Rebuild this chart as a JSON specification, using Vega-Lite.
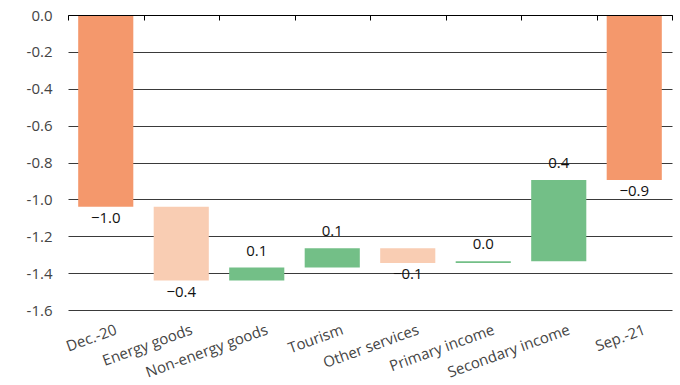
{
  "$schema": "https://vega.github.io/schema/vega-lite/v6.json",
  "width": 604,
  "height": 295,
  "autosize": "none",
  "padding": {"left": 68, "top": 15, "right": 8, "bottom": 75},
  "config": {
    "font": "Open Sans",
    "view": {"stroke": null}
  },
  "data": {
    "values": [
      {"cat": "Dec.-20", "amount": -1.04, "kind": "total"},
      {"cat": "Energy goods", "amount": -0.40, "kind": "change"},
      {"cat": "Non-energy goods", "amount": 0.07, "kind": "change"},
      {"cat": "Tourism", "amount": 0.105, "kind": "change"},
      {"cat": "Other services", "amount": -0.08, "kind": "change"},
      {"cat": "Primary income", "amount": 0.01, "kind": "change"},
      {"cat": "Secondary income", "amount": 0.44, "kind": "change"},
      {"cat": "Sep.-21", "amount": -0.895, "kind": "total"}
    ]
  },
  "transform": [
    {"window": [{"op": "sum", "field": "amount", "as": "running"}]},
    {"calculate": "datum.kind === 'total' ? datum.amount : datum.running", "as": "end"},
    {"calculate": "datum.kind === 'total' ? 0 : datum.running - datum.amount", "as": "start"},
    {"calculate": "datum.kind === 'total' ? 'total' : (datum.amount < 0 ? 'decrease' : 'increase')", "as": "effect"}
  ],
  "resolve": {"axis": {"x": "independent", "y": "independent"}},
  "layer": [
    {
      "mark": {"type": "bar", "width": {"band": 0.73}},
      "encoding": {
        "x": {
          "field": "cat",
          "type": "nominal",
          "sort": null,
          "scale": {"paddingInner": 0, "paddingOuter": 0},
          "axis": {
            "orient": "top",
            "title": null,
            "labels": false,
            "grid": false,
            "domain": true,
            "domainColor": "#000000",
            "domainWidth": 1,
            "ticks": true,
            "tickColor": "#000000",
            "tickWidth": 1,
            "tickSize": -5,
            "tickBand": "extent",
            "zindex": 2
          }
        },
        "y": {
          "field": "start",
          "type": "quantitative",
          "scale": {"domain": [-1.6, 0], "nice": false, "zero": false},
          "axis": {
            "orient": "left",
            "title": null,
            "values": [0, -0.2, -0.4, -0.6, -0.8, -1.0, -1.2, -1.4, -1.6],
            "labelExpr": "replace(format(datum.value, '.1f'), '\u2212', '-')",
            "labelOverlap": false,
            "labelFontSize": 15,
            "labelColor": "#444444",
            "domain": false,
            "ticks": false,
            "labelPadding": 16,
            "grid": true,
            "gridColor": "#3a3a3a",
            "gridWidth": 1
          }
        },
        "y2": {"field": "end"},
        "color": {
          "field": "effect",
          "type": "nominal",
          "scale": {"domain": ["total", "decrease", "increase"], "range": ["#F4986C", "#F9CDB3", "#73BF87"]},
          "legend": null
        }
      }
    },
    {
      "transform": [{"filter": "datum.amount < 0"}],
      "mark": {"type": "text", "baseline": "top", "dy": 4, "fontSize": 15, "color": "#111111"},
      "encoding": {
        "x": {
          "field": "cat",
          "type": "nominal",
          "sort": null,
          "axis": {
            "orient": "bottom",
            "title": null,
            "domain": false,
            "ticks": false,
            "grid": false,
            "labelAngle": -20,
            "labelAlign": "right",
            "labelBaseline": "top",
            "labelOffset": 8,
            "labelPadding": 12,
            "labelFontSize": 15,
            "labelColor": "#444444",
            "labelOverlap": false
          }
        },
        "y": {"field": "end", "type": "quantitative", "axis": null},
        "text": {"field": "amount", "type": "quantitative", "format": ".1f"}
      }
    },
    {
      "transform": [{"filter": "datum.amount >= 0"}],
      "mark": {"type": "text", "baseline": "alphabetic", "dy": -12, "fontSize": 15, "color": "#111111"},
      "encoding": {
        "x": {"field": "cat", "type": "nominal", "sort": null, "axis": null},
        "y": {"field": "end", "type": "quantitative", "axis": null},
        "text": {"field": "amount", "type": "quantitative", "format": ".1f"}
      }
    }
  ]
}
